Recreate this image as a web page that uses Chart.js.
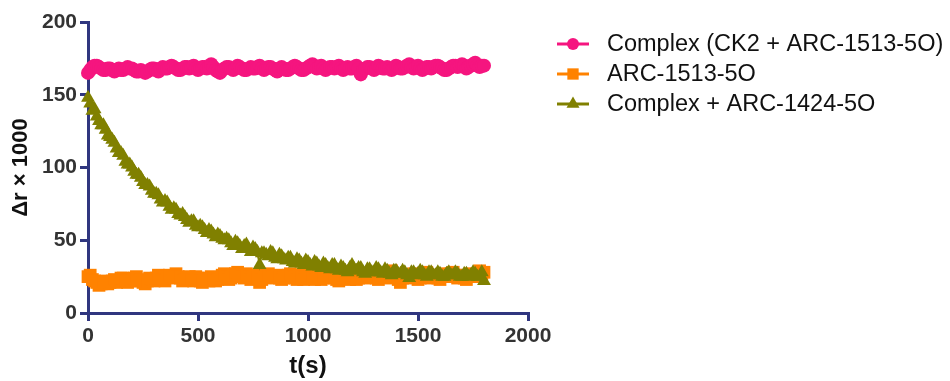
<!DOCTYPE html>
<html>
<head>
<meta charset="utf-8">
<script src="https://cdn.jsdelivr.net/npm/chart.js@4"></script>
<style>
  html, body { margin: 0; padding: 0; background: #fff; }
  #wrap { width: 950px; height: 381px; position: relative; }
</style>
</head>
<body>
<div id="wrap"><canvas id="myChart"></canvas></div>
<script>
// time points (s), one reading every 10 s
const times = [
    0, 10, 20, 30, 40, 50, 60, 70, 80, 90,
    100, 110, 120, 130, 140, 150, 160, 170, 180, 190,
    200, 210, 220, 230, 240, 250, 260, 270, 280, 290,
    300, 310, 320, 330, 340, 350, 360, 370, 380, 390,
    400, 410, 420, 430, 440, 450, 460, 470, 480, 490,
    500, 510, 520, 530, 540, 550, 560, 570, 580, 590,
    600, 610, 620, 630, 640, 650, 660, 670, 680, 690,
    700, 710, 720, 730, 740, 750, 760, 770, 780, 790,
    800, 810, 820, 830, 840, 850, 860, 870, 880, 890,
    900, 910, 920, 930, 940, 950, 960, 970, 980, 990,
    1000, 1010, 1020, 1030, 1040, 1050, 1060, 1070, 1080, 1090,
    1100, 1110, 1120, 1130, 1140, 1150, 1160, 1170, 1180, 1190,
    1200, 1210, 1220, 1230, 1240, 1250, 1260, 1270, 1280, 1290,
    1300, 1310, 1320, 1330, 1340, 1350, 1360, 1370, 1380, 1390,
    1400, 1410, 1420, 1430, 1440, 1450, 1460, 1470, 1480, 1490,
    1500, 1510, 1520, 1530, 1540, 1550, 1560, 1570, 1580, 1590,
    1600, 1610, 1620, 1630, 1640, 1650, 1660, 1670, 1680, 1690,
    1700, 1710, 1720, 1730, 1740, 1750, 1760, 1770, 1780, 1790,
    1800];

// Complex (CK2 + ARC-1513-5O)
const complexVals = [
    165, 167, 169, 170, 170, 169, 168, 167, 167, 168,
    168, 167, 166, 167, 168, 167, 167, 168, 169, 168,
    168, 167, 166, 166, 167, 166, 165, 166, 167, 168,
    168, 167, 166, 168, 169, 168, 168, 169, 170, 169,
    168, 167, 167, 168, 169, 169, 168, 169, 170, 168,
    167, 168, 169, 169, 168, 169, 171, 169, 167, 166,
    165, 167, 168, 169, 169, 168, 167, 168, 170, 169,
    168, 167, 167, 168, 169, 168, 168, 169, 170, 168,
    167, 168, 169, 169, 168, 167, 166, 168, 169, 168,
    167, 167, 168, 169, 170, 169, 168, 167, 167, 168,
    169, 170, 171, 169, 168, 169, 170, 168, 167, 168,
    169, 169, 168, 169, 170, 168, 167, 168, 169, 168,
    168, 169, 170, 168, 164, 167, 168, 169, 169, 168,
    167, 168, 170, 169, 168, 168, 169, 168, 167, 168,
    170, 169, 168, 168, 169, 170, 171, 169, 168, 169,
    170, 168, 167, 168, 169, 169, 168, 169, 170, 170,
    169, 168, 167, 167, 168, 169, 170, 170, 169, 170,
    171, 170, 168, 169, 170, 171, 172, 170, 169, 170,
    170];

// ARC-1513-5O
const arcVals = [
    25, 26, 23, 22, 21, 19, 20, 21, 22, 20,
    21, 22, 23, 21, 22, 24, 24, 22, 21, 23,
    22, 24, 25, 22, 23, 21, 20, 22, 24, 23,
    22, 24, 26, 24, 23, 22, 25, 26, 24, 25,
    27, 25, 24, 22, 23, 24, 25, 23, 22, 25,
    24, 22, 21, 24, 23, 22, 25, 24, 22, 23,
    24, 26, 27, 25, 23, 24, 26, 27, 28, 26,
    25, 24, 27, 25, 23, 24, 26, 24, 21, 23,
    25, 26, 27, 25, 24, 25, 26, 24, 23, 24,
    25, 26, 27, 25, 24, 23, 26, 25, 23, 24,
    25, 26, 24, 23, 26, 25, 23, 24, 25, 26,
    27, 25, 24, 23, 22, 24, 26, 25, 24, 23,
    25, 26, 23, 24, 26, 25, 24, 26, 27, 26,
    25, 24, 23, 25, 26, 25, 24, 27, 29, 26,
    25, 23, 21, 24, 26, 25, 24, 26, 27, 25,
    23, 24, 25, 27, 28, 26, 24, 25, 26, 24,
    23, 25, 27, 26, 25, 27, 28, 26, 24, 25,
    26, 24, 23, 25, 27, 26, 25, 27, 29, 27,
    28];

// Complex + ARC-1424-5O
const displaceVals = [
    148, 144, 139, 140, 135, 132, 129, 129, 126, 122,
    121, 119, 117, 113, 110, 110, 108, 104, 102, 102,
    100, 97, 95, 95, 93, 90, 88, 88, 87, 84,
    82, 82, 81, 78, 76, 77, 76, 73, 71, 72,
    71, 68, 67, 68, 66, 64, 62, 63, 63, 60,
    59, 60, 59, 57, 55, 57, 56, 54, 52, 54,
    53, 51, 50, 51, 50, 48, 46, 49, 48, 46,
    44, 46, 47, 44, 42, 45, 44, 42, 33, 41,
    41, 40, 39, 42, 41, 38, 37, 40, 39, 37,
    36, 38, 38, 35, 34, 37, 36, 34, 33, 36,
    35, 33, 32, 35, 34, 32, 31, 34, 33, 31,
    30, 33, 33, 30, 29, 32, 31, 29, 28, 31,
    33, 30, 29, 31, 31, 28, 27, 30, 30, 28,
    28, 31, 30, 28, 27, 30, 29, 27, 26, 29,
    29, 27, 27, 29, 28, 26, 24, 28, 28, 26,
    27, 29, 28, 26, 25, 28, 28, 26, 26, 28,
    27, 25, 25, 27, 28, 26, 26, 28, 27, 25,
    25, 27, 27, 25, 26, 28, 27, 25, 25, 28,
    22];

const xTicks = [0, 500, 1000, 1500, 2000];
const yTicks = [0, 50, 100, 150, 200];

const axisColor = '#30367f';
const textColor = '#333333';
const fontFam = '"Liberation Sans", Arial, sans-serif';

const toPoints = (vals) => vals.map((v, i) => ({ x: times[i], y: v }));

// legend drawn by hand: line with marker, like the original
const sideLegend = {
    id: 'sideLegend',
    afterDraw(chart) {
        const ctx = chart.ctx;
        const rows = [44, 74, 104];
        chart.data.datasets.forEach((ds, i) => {
            const y = rows[i];
            ctx.save();
            ctx.strokeStyle = ds.borderColor;
            ctx.lineWidth = 3;
            ctx.beginPath();
            ctx.moveTo(557, y);
            ctx.lineTo(589, y);
            ctx.stroke();
            ctx.fillStyle = ds.backgroundColor;
            ctx.strokeStyle = ds.backgroundColor;
            Chart.helpers.drawPoint(ctx, {
                pointStyle: ds.pointStyle,
                radius: ds.legendRadius,
                rotation: 0,
                borderWidth: 0
            }, 573, y);
            ctx.fillStyle = '#111';
            ctx.font = '23.5px ' + fontFam;
            ctx.textBaseline = 'middle';
            ctx.fillText(ds.label, 607, y + 1);
            ctx.restore();
        });
    }
};

const ctx = document.getElementById('myChart').getContext('2d');
const myChart = new Chart(ctx, {
    type: 'scatter',
    data: {
        datasets: [{
            label: 'Complex (CK2 + ARC-1513-5O)',
            data: toPoints(complexVals),
            showLine: true,
            borderColor: '#f5157f',
            backgroundColor: '#f5157f',
            borderWidth: 2,
            pointStyle: 'circle',
            pointRadius: 7,
            legendRadius: 6,
            pointBorderWidth: 0,
            clip: false,
            order: 0
        }, {
            label: 'ARC-1513-5O',
            data: toPoints(arcVals),
            showLine: true,
            borderColor: '#ff8200',
            backgroundColor: '#ff8200',
            borderWidth: 2,
            pointStyle: 'rect',
            pointRadius: 9,
            legendRadius: 8,
            pointBorderWidth: 0,
            clip: false,
            order: 2
        }, {
            label: 'Complex + ARC-1424-5O',
            data: toPoints(displaceVals),
            showLine: true,
            borderColor: '#808000',
            backgroundColor: '#808000',
            borderWidth: 2,
            pointStyle: 'triangle',
            pointRadius: 8,
            legendRadius: 7.5,
            pointBorderWidth: 0,
            clip: false,
            order: 1
        }]
    },
    options: {
        animation: false,
        responsive: true,
        maintainAspectRatio: false,
        layout: { padding: { left: 8, right: 422, top: 22, bottom: 0 } },
        plugins: {
            legend: { display: false },
            tooltip: { enabled: false }
        },
        scales: {
            x: {
                type: 'linear',
                min: 0,
                max: 2000,
                afterFit: (s) => { s.height = 68; },
                afterBuildTicks: (s) => { s.ticks = xTicks.map(v => ({ value: v })); },
                border: { display: true, color: axisColor, width: 3 },
                grid: { drawOnChartArea: false, drawTicks: true, tickLength: 8, color: axisColor, lineWidth: 3 },
                ticks: {
                    color: textColor,
                    padding: 3,
                    font: { family: fontFam, size: 21, weight: 'bold' },
                    callback: (v) => String(v)
                },
                title: {
                    display: true,
                    text: 't(s)',
                    color: '#111',
                    padding: { top: 3, bottom: 0 },
                    font: { family: fontFam, size: 24, weight: 'bold' }
                }
            },
            y: {
                type: 'linear',
                min: 0,
                max: 200,
                afterFit: (s) => { s.width = 80; },
                afterBuildTicks: (s) => { s.ticks = yTicks.map(v => ({ value: v })); },
                border: { display: true, color: axisColor, width: 3 },
                grid: { drawOnChartArea: false, drawTicks: true, tickLength: 8, color: axisColor, lineWidth: 3 },
                ticks: {
                    color: textColor,
                    padding: 3,
                    font: { family: fontFam, size: 21, weight: 'bold' },
                    callback: (v) => String(v)
                },
                title: {
                    display: true,
                    text: 'Δr × 1000',
                    color: '#111',
                    padding: { top: 0, bottom: 6 },
                    font: { family: fontFam, size: 22, weight: 'bold' }
                }
            }
        }
    },
    plugins: [sideLegend]
});
</script>
</body>
</html>
